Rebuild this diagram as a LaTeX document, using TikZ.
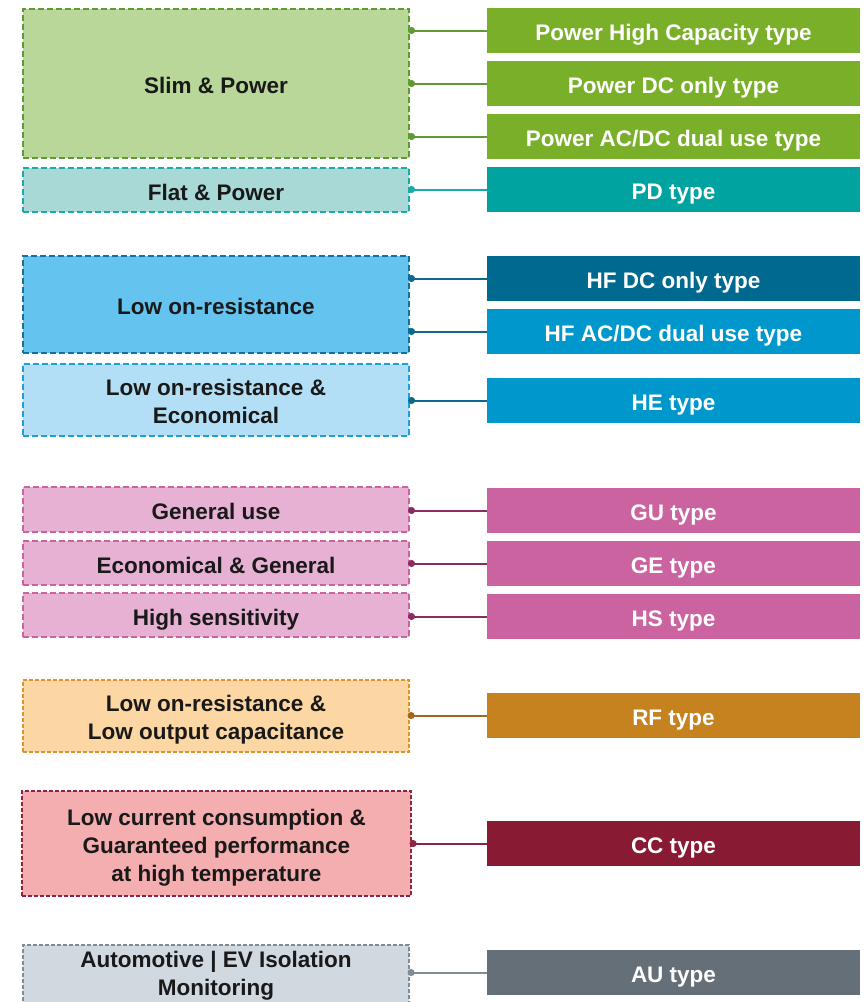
\documentclass[tikz,border=0pt]{standalone}
\usepackage{fontspec}
\setmainfont{Liberation Sans}
\usetikzlibrary{arrows.meta}

\definecolor{grnDark}{HTML}{7AAF29}
\definecolor{grnLight}{HTML}{B9D799}
\definecolor{grnLine}{HTML}{5E9B33}
\definecolor{tealDark}{HTML}{00A39F}
\definecolor{tealLight}{HTML}{A8D9D7}
\definecolor{tealLine}{HTML}{1AABA8}
\definecolor{blueDeep}{HTML}{00698F}
\definecolor{blueMid}{HTML}{0097CD}
\definecolor{blueFill}{HTML}{64C4EF}
\definecolor{blueFillLt}{HTML}{B3DFF6}
\definecolor{blueEdge}{HTML}{1A6F99}
\definecolor{blueEdgeLt}{HTML}{1E9FD6}
\definecolor{blueLine}{HTML}{0D6A8E}
\definecolor{pinkDark}{HTML}{CC63A1}
\definecolor{pinkLight}{HTML}{E6B1D2}
\definecolor{pinkLine}{HTML}{8C2D62}
\definecolor{orgDark}{HTML}{C6821F}
\definecolor{orgLight}{HTML}{FCD6A3}
\definecolor{orgEdge}{HTML}{D9962E}
\definecolor{orgLine}{HTML}{A3661E}
\definecolor{redDark}{HTML}{881B33}
\definecolor{redLight}{HTML}{F4AEAF}
\definecolor{redEdge}{HTML}{8E2442}
\definecolor{grayDark}{HTML}{646F77}
\definecolor{grayLight}{HTML}{D1D9E0}
\definecolor{grayEdge}{HTML}{808B93}

% multi-line label, lowered a little inside its box
\newcommand{\dropped}[2][4pt]{\raisebox{-#1}[\height][\depth]{\begin{tabular}{@{}c@{}}#2\end{tabular}}}

\begin{document}
\begin{tikzpicture}[
  x=1pt, y=-1pt,
  font=\fontsize{22.5}{28}\selectfont\bfseries,
  featbox/.style={draw, line width=2pt, dash pattern=on 6pt off 3pt, preaction={draw=white, solid, line width=2pt},
    minimum width=386pt, inner sep=0pt, align=center, text=black!90},
  featthin/.style={featbox, line width=1.2pt, dash pattern=on 4pt off 2pt},
  oneline/.style={text height=20pt, text depth=0pt},
  typebox/.style={oneline, minimum width=373pt, minimum height=45pt, inner sep=0pt, text=white},
  link/.style={{Circle[length=7pt]}-, line width=2pt, shorten <=-2pt}
]
  \useasboundingbox (0,0) rectangle (866,1002);
  \clip (0,0) rectangle (866,1002);

  % left column: features
  \node[featbox, oneline, draw=grnLine, fill=grnLight, minimum height=149pt] (slim) at (216,83.5) {Slim \& Power};
  \node[featbox, oneline, draw=tealLine, fill=tealLight, minimum height=44pt] (flat) at (216,190) {Flat \& Power};
  \node[featbox, oneline, draw=blueEdge, fill=blueFill, minimum height=97pt] (lowon) at (216,304.5) {Low on-resistance};
  \node[featbox, draw=blueEdgeLt, fill=blueFillLt, minimum height=72pt] (lowecon) at (216,400) {\dropped{Low on-resistance \&\\Economical}};
  \node[featbox, oneline, draw=pinkDark, fill=pinkLight, minimum height=45pt] (general) at (216,509.5) {General use};
  \node[featbox, oneline, draw=pinkDark, fill=pinkLight, minimum height=44pt] (econgen) at (216,563) {Economical \& General};
  \node[featbox, oneline, draw=pinkDark, fill=pinkLight, minimum height=44pt] (highsens) at (216,615) {High sensitivity};
  \node[featthin, draw=orgEdge, fill=orgLight, minimum height=72pt] (lowcap) at (216,716) {\dropped{Low on-resistance \&\\Low output capacitance}};
  \node[featthin, draw=redEdge, fill=redLight, minimum width=389pt, minimum height=105pt] (lowcur) at (216.5,843.5) {\dropped[4.5pt]{Low current consumption \&\\Guaranteed performance\\at high temperature}};
  \node[featthin, draw=grayEdge, fill=grayLight, minimum height=58pt] (auto) at (216,974) {\dropped[1.5pt]{Automotive | EV Isolation\\Monitoring}};

  % right column: types
  \node[typebox, fill=grnDark] (phc) at (673.5,30.5) {Power High Capacity type};
  \node[typebox, fill=grnDark] (pdc) at (673.5,83.5) {Power DC only type};
  \node[typebox, fill=grnDark] (pacdc) at (673.5,136.5) {Power AC/DC dual use type};
  \node[typebox, fill=tealDark] (pd) at (673.5,189.5) {PD type};
  \node[typebox, fill=blueDeep] (hfdc) at (673.5,278.5) {HF DC only type};
  \node[typebox, fill=blueMid] (hfacdc) at (673.5,331.5) {HF AC/DC dual use type};
  \node[typebox, fill=blueMid] (he) at (673.5,400.5) {HE type};
  \node[typebox, fill=pinkDark] (gu) at (673.5,510.5) {GU type};
  \node[typebox, fill=pinkDark] (ge) at (673.5,563.5) {GE type};
  \node[typebox, fill=pinkDark] (hs) at (673.5,616.5) {HS type};
  \node[typebox, fill=orgDark] (rf) at (673.5,715.5) {RF type};
  \node[typebox, fill=redDark] (cc) at (673.5,843.5) {CC type};
  \node[typebox, fill=grayDark] (au) at (673.5,972.5) {AU type};

  % links
  \draw[link, draw=grnLine, fill=grnLine] (slim.east |- phc.west) -- (phc.west);
  \draw[link, draw=grnLine, fill=grnLine] (slim.east |- pdc.west) -- (pdc.west);
  \draw[link, draw=grnLine, fill=grnLine] (slim.east |- pacdc.west) -- (pacdc.west);
  \draw[link, draw=tealLine, fill=tealLine] (flat.east |- pd.west) -- (pd.west);
  \draw[link, draw=blueLine, fill=blueLine] (lowon.east |- hfdc.west) -- (hfdc.west);
  \draw[link, draw=blueLine, fill=blueLine] (lowon.east |- hfacdc.west) -- (hfacdc.west);
  \draw[link, draw=blueLine, fill=blueLine] (lowecon.east |- he.west) -- (he.west);
  \draw[link, draw=pinkLine, fill=pinkLine] (general.east |- gu.west) -- (gu.west);
  \draw[link, draw=pinkLine, fill=pinkLine] (econgen.east |- ge.west) -- (ge.west);
  \draw[link, draw=pinkLine, fill=pinkLine] (highsens.east |- hs.west) -- (hs.west);
  \draw[link, draw=orgLine, fill=orgLine] (lowcap.east |- rf.west) -- (rf.west);
  \draw[link, draw=redEdge, fill=redEdge] (lowcur.east |- cc.west) -- (cc.west);
  \draw[link, draw=grayEdge, fill=grayEdge] (auto.east |- au.west) -- (au.west);
\end{tikzpicture}
\end{document}
